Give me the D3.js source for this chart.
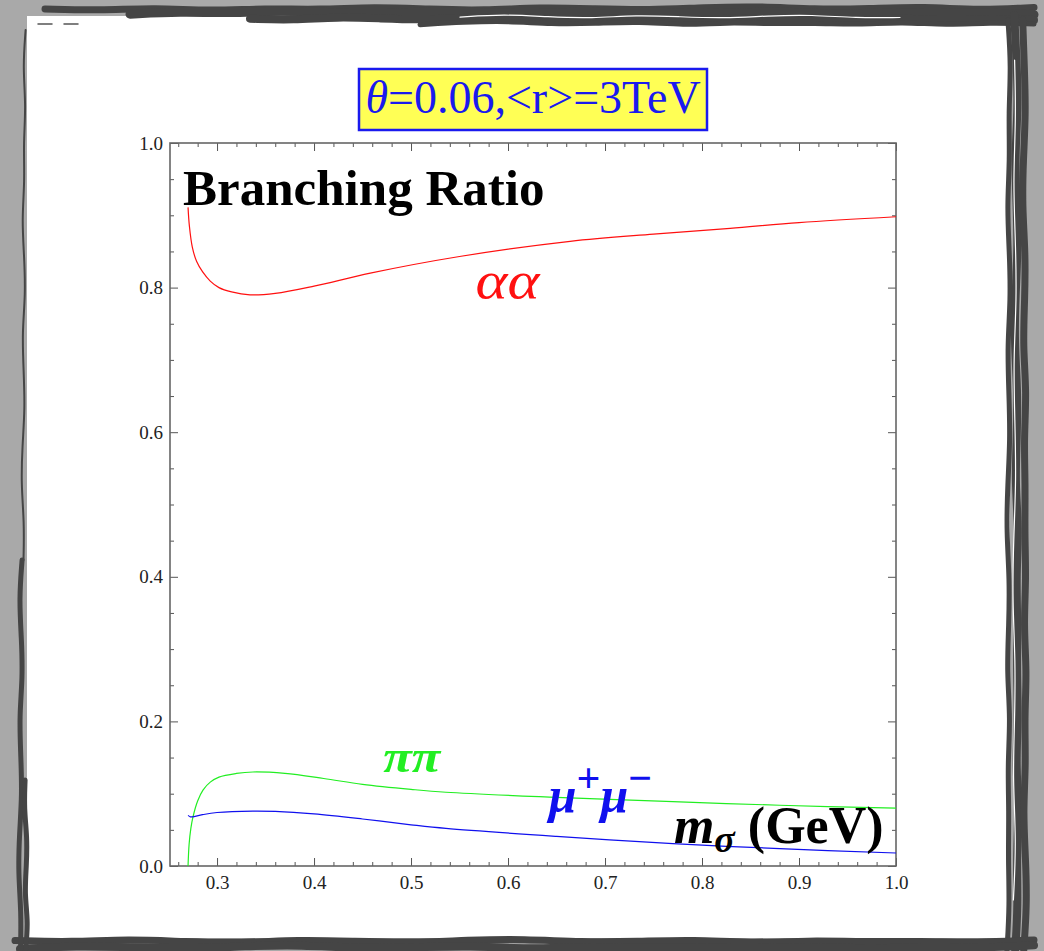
<!DOCTYPE html>
<html>
<head>
<meta charset="utf-8">
<script src="https://cdn.jsdelivr.net/npm/d3@7"></script>
<style>
  body { margin: 0; background: #a9a9a9; }
  svg { display: block; }
  .tick text { font-family: "Liberation Serif", "Times New Roman", serif; font-size: 19px; fill: #222; }
  .tick line { stroke: #555; }
</style>
</head>
<body>
<div class="container"></div>
<script>
// m_sigma (GeV) vs branching ratio
var aaM   = [0.2701, 0.2715, 0.2745, 0.2790, 0.2850, 0.2930, 0.3020, 0.3150, 0.3340, 0.3600, 0.4000, 0.4580, 0.5500, 0.6640, 0.7500, 0.8290, 0.9000, 1.0000];
var aaBR  = [0.911,  0.885,  0.856,  0.836,  0.822,  0.809,  0.800,  0.794,  0.790,  0.792,  0.802,  0.820,  0.843,  0.864,  0.874,  0.882,  0.890,  0.898];

var piM   = [0.2701, 0.2712, 0.2730, 0.2752, 0.2800, 0.2855, 0.2930, 0.3020, 0.3200, 0.3370, 0.3700, 0.4100, 0.4500, 0.5000, 0.5360, 0.6500, 0.7700, 0.8800, 1.0000];
var piBR  = [0.000,  0.030,  0.052,  0.068,  0.090,  0.105,  0.116,  0.123,  0.128,  0.130,  0.128,  0.121,  0.113,  0.106,  0.102,  0.095,  0.089,  0.084,  0.080];

var muM   = [0.2701, 0.2725, 0.2745, 0.2850, 0.3000, 0.3370, 0.3600, 0.4000, 0.4500, 0.5000, 0.5360, 0.6500, 0.7700, 0.8800, 1.0000];
var muBR  = [0.070,  0.068,  0.068,  0.071,  0.074,  0.076,  0.0755, 0.072,  0.065,  0.057,  0.052,  0.041,  0.031,  0.024,  0.018];

var xTickValues = [0.3, 0.4, 0.5, 0.6, 0.7, 0.8, 0.9, 1.0];
var xTickLabels = ["0.3", "0.4", "0.5", "0.6", "0.7", "0.8", "0.9", "1.0"];
var yTickValues = [0.0, 0.2, 0.4, 0.6, 0.8, 1.0];
var yTickLabels = ["0.0", "0.2", "0.4", "0.6", "0.8", "1.0"];

var titleText = "=0.06,<r>=3TeV";

const WIDTH = 1044;
const HEIGHT = 951;
const PLOT_LEFT = 170, PLOT_RIGHT = 896, PLOT_TOP = 143, PLOT_BOTTOM = 866;

var translate = function(x, y){
	return "translate(" + x + "," + y + ")";
};

var svg = d3.select('.container').append('svg')
	.attr('width', WIDTH)
	.attr('height', HEIGHT);

// --- sketchy frame around the page ---
svg.append('rect').attr('width', WIDTH).attr('height', HEIGHT).attr('fill', '#a9a9a9');
svg.append('rect').attr('x', 27).attr('y', 16).attr('width', 983).attr('height', 922).attr('fill', '#fff');

var wob = [0, 1.6, -1.1, 2.2, -0.4, 1.1, -1.8, 0.7, 2.0, -1.3, 0.3, 1.7, -0.9, -2.0, 1.2, 0.5, -1.5, 2.3, -0.6, 0.9];
var band = function(x0, y0, x1, y1, thick, n, shift, col){
	// a ragged stroke from (x0,y0) to (x1,y1)
	var pts = [];
	var horiz = Math.abs(y1 - y0) < Math.abs(x1 - x0);
	for (var i = 0; i <= n; i++) {
		var t = i / n;
		var w = wob[(i + shift) % wob.length];
		pts.push([x0 + (x1 - x0) * t + (horiz ? 0 : w), y0 + (y1 - y0) * t + (horiz ? w : 0)]);
	}
	svg.append('path')
		.attr('d', d3.line().curve(d3.curveBasis)(pts))
		.attr('fill', 'none')
		.attr('stroke', col || '#454545')
		.attr('stroke-width', thick)
		.attr('stroke-linecap', 'round');
};
var dash = function(x0, x1, y){
	svg.append('line').attr('x1', x0).attr('x2', x1).attr('y1', y).attr('y2', y)
		.attr('stroke', '#555').attr('stroke-width', 1.5).attr('stroke-linecap', 'round');
};
// top
band(45, 9, 1034, 8, 7, 18, 0);
band(130, 12, 1034, 13, 9, 18, 3);
band(250, 18, 1034, 19, 8, 18, 7);
band(420, 23, 1034, 23, 5, 14, 11);
band(460, 16, 900, 17, 1.2, 10, 5, '#fff');
dash(38, 52, 24);
dash(64, 78, 24);
// right
band(1009, 20, 1008, 951, 5, 20, 2);
band(1016, 15, 1017, 951, 8, 20, 6);
band(1024, 20, 1025, 951, 7, 20, 9);
band(1015, 60, 1014, 900, 1.2, 14, 4, '#fff');
// bottom
band(15, 941, 1034, 941, 7, 18, 4);
band(20, 947, 1034, 947, 8, 18, 8);
// left
band(24, 30, 23, 560, 2, 14, 1);
band(21, 560, 20, 951, 5, 10, 5);
band(26, 780, 26, 951, 5, 6, 12);

// --- scales & axes ---
var xScale = d3.scaleLinear().domain([0.2515, 1.0]).range([PLOT_LEFT, PLOT_RIGHT]);
var yScale = d3.scaleLinear().domain([0, 1]).range([PLOT_BOTTOM, PLOT_TOP]);

var xMinor = d3.range(0.26, 1.001, 0.02).filter(function(v){ return Math.abs(v * 10 - Math.round(v * 10)) > 1e-6; });
var yMinor = d3.range(0.05, 1.0, 0.05).filter(function(v){ return Math.abs(v * 5 - Math.round(v * 5)) > 1e-6; });

var fmtX = function(d){ return xTickLabels[xTickValues.indexOf(d)]; };
var fmtY = function(d, i){ return yTickLabels[i]; };

var addAxis = function(gen, tx, ty){
	var g = svg.append('g').attr('transform', translate(tx, ty)).call(gen);
	g.select('.domain').remove();
	return g;
};

addAxis(d3.axisBottom(xScale).tickValues(xTickValues).tickFormat(fmtX).tickSizeInner(-8).tickSizeOuter(0).tickPadding(10), 0, PLOT_BOTTOM);
addAxis(d3.axisBottom(xScale).tickValues(xMinor).tickFormat('').tickSizeInner(-4).tickSizeOuter(0), 0, PLOT_BOTTOM);
addAxis(d3.axisTop(xScale).tickValues(xTickValues).tickFormat('').tickSizeInner(-8).tickSizeOuter(0), 0, PLOT_TOP);
addAxis(d3.axisTop(xScale).tickValues(xMinor).tickFormat('').tickSizeInner(-4).tickSizeOuter(0), 0, PLOT_TOP);

addAxis(d3.axisLeft(yScale).tickValues(yTickValues).tickFormat(fmtY).tickSizeInner(-8).tickSizeOuter(0).tickPadding(7), PLOT_LEFT, 0);
addAxis(d3.axisLeft(yScale).tickValues(yMinor).tickFormat('').tickSizeInner(-4).tickSizeOuter(0), PLOT_LEFT, 0);
addAxis(d3.axisRight(yScale).tickValues(yTickValues).tickFormat('').tickSizeInner(-8).tickSizeOuter(0), PLOT_RIGHT, 0);
addAxis(d3.axisRight(yScale).tickValues(yMinor).tickFormat('').tickSizeInner(-4).tickSizeOuter(0), PLOT_RIGHT, 0);

svg.append('rect')
	.attr('x', PLOT_LEFT).attr('y', PLOT_TOP)
	.attr('width', PLOT_RIGHT - PLOT_LEFT).attr('height', PLOT_BOTTOM - PLOT_TOP)
	.attr('fill', 'none').attr('stroke', '#666').attr('stroke-width', 1.6);

// --- curves ---
var series = [
	{ m: aaM, br: aaBR, color: '#ff1010' },
	{ m: piM, br: piBR, color: '#22ee22' },
	{ m: muM, br: muBR, color: '#1010ee' }
];

var line = d3.line()
	.x(function(d){ return xScale(d[0]); })
	.y(function(d){ return yScale(d[1]); })
	.curve(d3.curveCatmullRom.alpha(0.5));

series.forEach(function(s){
	svg.append('path')
		.attr('d', line(s.m.map(function(v, i){ return [v, s.br[i]]; })))
		.attr('fill', 'none')
		.attr('stroke', s.color)
		.attr('stroke-width', 1.2);
});

// --- labels ---
var serif = '"Liberation Serif", "Times New Roman", serif';

svg.append('text')
	.attr('x', xScale(0.265)).attr('y', yScale(0.914))
	.attr('font-family', serif).attr('font-weight', 'bold').attr('font-size', 51)
	.text('Branching Ratio');

svg.append('text')
	.attr('x', xScale(0.5666)).attr('y', yScale(0.786))
	.attr('font-family', serif).attr('font-style', 'italic').attr('font-size', 52)
	.attr('textLength', 64).attr('lengthAdjust', 'spacingAndGlyphs')
	.attr('fill', '#ff1010')
	.text('αα');

svg.append('text')
	.attr('x', xScale(0.4715)).attr('y', yScale(0.130))
	.attr('font-family', serif).attr('font-style', 'italic').attr('font-weight', 'bold').attr('font-size', 46)
	.attr('textLength', 57).attr('lengthAdjust', 'spacingAndGlyphs')
	.attr('fill', '#22ee22')
	.text('ππ');

var mu = svg.append('text')
	.attr('x', xScale(0.642)).attr('y', yScale(0.0747))
	.attr('font-family', serif).attr('font-style', 'italic').attr('font-weight', 'bold').attr('font-size', 50)
	.attr('fill', '#1010ee');
mu.append('tspan').text('μ');
mu.append('tspan').attr('dy', -20).attr('font-size', 42).attr('font-style', 'normal').text('+');
mu.append('tspan').attr('dy', 20).text('μ');
mu.append('tspan').attr('dy', -20).attr('font-size', 42).attr('font-style', 'normal').text('−');

var ms = svg.append('text')
	.attr('x', xScale(0.771)).attr('y', yScale(0.0318))
	.attr('font-family', serif).attr('font-weight', 'bold').attr('font-size', 52)
	.attr('fill', '#000');
ms.append('tspan').attr('font-style', 'italic').text('m');
ms.append('tspan').attr('font-style', 'italic').attr('font-size', 38).attr('dy', 9).text('σ');
ms.append('tspan').attr('dy', -9).text(' (GeV)');

// --- title box ---
svg.append('rect')
	.attr('x', 359).attr('y', 69).attr('width', 348).attr('height', 61)
	.attr('fill', '#ffff55').attr('stroke', '#1a1aee').attr('stroke-width', 2.5);

var title = svg.append('text')
	.attr('x', 533).attr('y', 113)
	.attr('text-anchor', 'middle')
	.attr('font-family', serif).attr('font-size', 46)
	.attr('fill', '#1a1aee');
title.append('tspan').attr('font-style', 'italic').text('θ');
title.append('tspan').text(titleText);
</script>
</body>
</html>
